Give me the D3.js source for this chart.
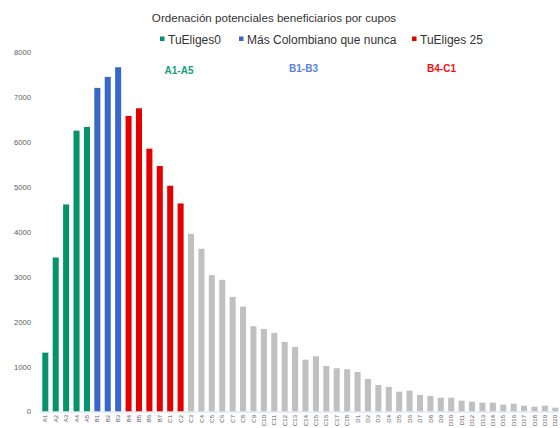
<!DOCTYPE html>
<html><head><meta charset="utf-8">
<script src="https://cdn.jsdelivr.net/npm/d3@7"></script>
<style>html,body{margin:0;padding:0;background:#fff;}</style>
</head><body>
<svg id="c" width="560" height="428"></svg>
<script>
const categories = ["A1","A2","A3","A4","A5","B1","B2","B3","B4","B5","B6","B7",
  "C1","C2","C3","C4","C5","C6","C7","C8","C9","C10","C11","C12","C13","C14","C15","C16","C17","C18",
  "D1","D2","D3","D4","D5","D6","D7","D8","D9","D10","D11","D12","D13","D14","D15","D16","D17","D18","D19","D20"];
const values = [1310,3427,4608,6250,6332,7201,7446,7661,6577,6747,5849,5463,
  5024,4630,3955,3621,3035,2930,2551,2335,1898,1838,1749,1549,1437,1154,1230,1014,962,940,
  880,724,590,546,441,464,368,345,308,308,241,218,196,196,152,174,129,107,129,85];
// group of each bar: 0 TuEliges0, 1 Más Colombiano, 2 TuEliges 25, 3 otros
const groups = [0,0,0,0,0,1,1,1,2,2,2,2,2,2,
  3,3,3,3,3,3,3,3,3,3,3,3,3,3,3,3,3,3,3,3,3,3,3,3,3,3,3,3,3,3,3,3,3,3,3,3];
const seriesNames = ["TuEliges0","Más Colombiano que nunca","TuEliges 25"];
const groupColors = ["#06936a","#3866cc","#e40000","#c0c0c0"];
const yTicks = [0,1000,2000,3000,4000,5000,6000,7000,8000];
const annotations = [
  {text:"A1-A5", color:"#16a07a"},
  {text:"B1-B3", color:"#5a82d8"},
  {text:"B4-C1", color:"#f01010"}
];
const title = "Ordenación potenciales beneficiarios por cupos";

const svg = d3.select("#c");
const x = d3.scaleBand().domain(categories).range([40.1,560.5]).paddingInner(0.42).paddingOuter(0.21);
const y = d3.scaleLinear().domain([0,8000]).range([411.5,52]);

// title
svg.append("text").attr("x",274).attr("y",22).attr("text-anchor","middle")
  .attr("font-family","Liberation Sans, Arial, sans-serif").attr("font-size",11.6)
  .attr("fill","#333").text(title);

// legend
const legX = [160,239,412];
seriesNames.forEach((s,i)=>{
  svg.append("rect").attr("x",legX[i]).attr("y",36.5).attr("width",4.5).attr("height",4.5).attr("fill",groupColors[i]);
  svg.append("text").attr("x",legX[i]+8).attr("y",43.5).attr("font-family","Liberation Sans, Arial, sans-serif")
    .attr("font-size",12).attr("fill","#333").text(s);
});

// annotations
const annX = [179,303.5,441.5], annY = [74,72,72];
annotations.forEach((a,i)=>{
  svg.append("text").attr("x",annX[i]).attr("y",annY[i]).attr("text-anchor","middle")
    .attr("font-family","Liberation Sans, Arial, sans-serif").attr("font-weight","bold")
    .attr("font-size",10).attr("fill",a.color).text(a.text);
});

// y axis (labels only)
const yAxis = d3.axisLeft(y).tickValues(yTicks).tickSize(0).tickPadding(0).tickFormat(d3.format("d"));
const ga = svg.append("g").attr("transform","translate(31,0)").call(yAxis);
ga.select(".domain").remove();
ga.selectAll("text").attr("font-family","Liberation Sans, Arial, sans-serif").attr("font-size",7.6).attr("fill","#595959");

// bars
svg.append("g").selectAll("rect").data(categories).join("rect")
  .attr("x",d=>x(d)).attr("width",x.bandwidth())
  .attr("y",(d,i)=>y(values[i])).attr("height",(d,i)=>y(0)-y(values[i]))
  .attr("fill",(d,i)=>groupColors[groups[i]]);

// x axis
const xAxis = d3.axisBottom(x).tickSize(0).tickPadding(0);
const gx = svg.append("g").attr("transform","translate(0,412)").call(xAxis);
gx.select(".domain").attr("stroke","#d3ddee").attr("d","M40,0H558");
gx.selectAll("text").attr("font-family","Liberation Sans, Arial, sans-serif").attr("font-size",6)
  .attr("fill","#595959").attr("text-anchor","end").attr("dy","0.35em")
  .attr("transform","translate(0,3) rotate(-90)").attr("y",0).attr("x",0);
</script>
</body></html>
